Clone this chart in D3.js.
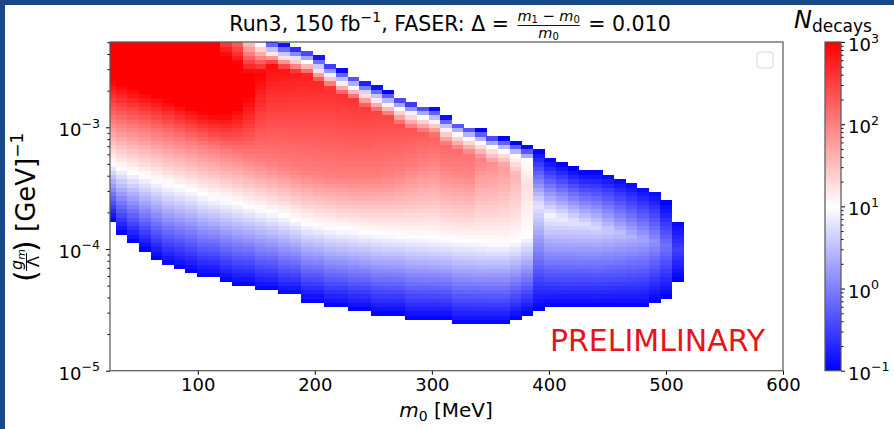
<!DOCTYPE html>
<html lang="en">
<head>
<meta charset="utf-8">
<title>FASER N_decays</title>
<script src="https://cdnjs.cloudflare.com/ajax/libs/d3/7.8.5/d3.min.js"></script>
<style>
	body { margin: 0; background: #fff; }
	svg text { font-family: "DejaVu Sans", sans-serif; fill: #000; white-space: pre; }
</style>
</head>
<body>
<svg id="chart" width="894" height="429"></svg>
<script>
// m0 column centres [MeV]
const massCenters = [25.0, 34.9, 44.8, 54.7, 64.6, 74.5, 84.4, 94.3, 104.2, 114.1,
	124.0, 133.9, 143.8, 153.7, 163.6, 173.5, 183.4, 193.3, 203.2, 213.1,
	223.0, 232.9, 242.8, 252.7, 262.6, 272.4, 282.3, 292.2, 302.1, 312.0,
	321.9, 331.8, 341.7, 351.6, 361.5, 371.4, 381.3, 391.2, 401.1, 411.0,
	420.9, 430.8, 440.7, 450.6, 460.5, 470.4, 480.3, 490.2, 500.1, 510.0];

// log10(g/Lambda) read per column, lower side: N = 0.1 (edge), N = 10 (white), N = 100
const lowerEdge = [-3.762, -3.871, -3.940, -4.008, -4.076, -4.131, -4.159, -4.187, -4.228, -4.228,
	-4.269, -4.296, -4.296, -4.337, -4.337, -4.378, -4.378, -4.433, -4.433, -4.474,
	-4.474, -4.501, -4.501, -4.537, -4.537, -4.537, -4.575, -4.575, -4.575, -4.575,
	-4.616, -4.616, -4.616, -4.616, -4.616, -4.575, -4.537, -4.501, -4.474, -4.474,
	-4.474, -4.474, -4.474, -4.474, -4.474, -4.474, -4.474, -4.433, -4.397, -4.255];
const lowerWhite = [-3.293, -3.334, -3.367, -3.400, -3.432, -3.465, -3.490, -3.515, -3.548, -3.573,
	-3.597, -3.622, -3.647, -3.671, -3.696, -3.721, -3.753, -3.786, -3.802, -3.819,
	-3.835, -3.843, -3.860, -3.868, -3.876, -3.884, -3.892, -3.901, -3.909, -3.918,
	-3.926, -3.934, -3.942, -3.951, -3.951, -3.934, -3.892, null, null, null,
	null, null, null, null, null, null, null, null, null, null];
const lowerHundred = [-2.956, -2.981, -3.006, -3.030, -3.055, -3.080, -3.104, -3.129, -3.154, -3.178,
	-3.203, -3.228, -3.252, -3.277, -3.302, -3.326, -3.351, -3.367, -3.384, -3.400,
	-3.408, -3.417, -3.417, -3.408, -3.392, -3.367, -3.334, -3.293, -3.269, -3.334,
	-3.351, -3.367, null, null, null, null, null, null, null, null,
	null, null, null, null, null, null, null, null, null, null];

// coupling of the column maximum and log10(N) there
const peakCoupling = [-2.200, -2.242, -2.283, -2.324, -2.365, -2.406, -2.447, -2.488, -2.529, -2.570,
	-2.611, -2.611, -2.595, -2.546, -2.488, -2.521, -2.546, -2.570, -2.628, -2.677,
	-2.735, -2.776, -2.833, -2.874, -2.915, -2.981, -3.022, -3.047, -3.071, -3.145,
	-3.186, -3.219, -3.252, -3.293, -3.318, -3.392, -3.474, -3.638, -3.721, -3.745,
	-3.770, -3.795, -3.819, -3.844, -3.869, -3.893, -3.918, -3.942, -3.975, -4.008];
const peakLogN = [4.2, 4.2, 4.2, 4.2, 4.2, 4.2, 4.2, 4.2, 4.2, 4.1,
	3.9, 3.6, 3.3, 3.0, 2.9, 2.85, 2.8, 2.75, 2.7, 2.65,
	2.62, 2.6, 2.55, 2.5, 2.45, 2.4, 2.35, 2.3, 2.25, 2.2,
	2.15, 2.1, 2.0, 1.9, 1.8, 1.6, 1.25, 0.8, 0.9, 0.85,
	0.8, 0.75, 0.7, 0.6, 0.5, 0.4, 0.3, 0.15, -0.1, -0.5];

// upper side: N = 10 (white) and N = 0.1 (edge); null = above the frame
const upperWhite = [null, null, null, null, null, null, null, null, null, null,
	-1.970, -2.028, -2.233, -2.316, -2.381, -2.414, -2.439, -2.463, -2.518, -2.573,
	-2.628, -2.669, -2.724, -2.765, -2.806, -2.847, -2.888, -2.915, -2.943, -3.011,
	-3.053, -3.088, -3.121, -3.162, -3.189, -3.225, -3.269, null, null, null,
	null, null, null, null, null, null, null, null, null, null];
const upperEdge = [null, null, null, null, null, null, null, null, null, null,
	-1.872, -1.929, -2.135, -2.217, -2.283, -2.316, -2.340, -2.365, -2.420, -2.474,
	-2.529, -2.570, -2.625, -2.666, -2.707, -2.749, -2.790, -2.817, -2.844, -2.913,
	-2.954, -2.989, -3.022, -3.063, -3.090, -3.127, -3.159, -3.187, -3.255, -3.296,
	-3.337, -3.365, -3.365, -3.384, -3.417, -3.449, -3.482, -3.515, -3.614, -3.762];

const xTicks = [100, 200, 300, 400, 500, 600];
const yTickExp = [-5, -4, -3];
const cbarTickExp = [-1, 0, 1, 2, 3];

const svg = d3.select("#chart");
const plot = { left: 110, right: 783, top: 42, bottom: 370.7 };
const cbar = { left: 825, right: 841, top: 42, bottom: 370.7 };

// slide frame
svg.append("rect").attr("x", 0).attr("y", 0).attr("width", 894).attr("height", 5).attr("fill", "#1b4789");
svg.append("rect").attr("x", 0).attr("y", 0).attr("width", 5).attr("height", 429).attr("fill", "#1b4789");

const x = d3.scaleLinear().domain([25, 600]).range([plot.left, plot.right]);
const y = d3.scaleLog().domain([1e-5, 5.02e-3]).range([plot.bottom, plot.top]);
const color = d3.scaleLinear().domain([-1, 1, 3]).range(["#0000ff", "#ffffff", "#ff0000"]).clamp(true);

svg.append("clipPath").attr("id", "clip")
	.append("rect").attr("x", plot.left).attr("y", plot.top)
	.attr("width", plot.right - plot.left).attr("height", plot.bottom - plot.top);

// heat cells
const rowStep = 0.035;
const rowStarts = d3.range(-5, -2.25, rowStep);
const half = (massCenters[1] - massCenters[0]) / 2;
const cells = [];
massCenters.forEach((m, i) => {
	const knots = [[lowerEdge[i], -1], [lowerWhite[i], 1], [lowerHundred[i], 2],
		[peakCoupling[i], peakLogN[i]], [upperWhite[i], 1], [upperEdge[i], -1]].filter(k => k[0] != null);
	const level = d3.scaleLinear().domain(knots.map(k => k[0])).range(knots.map(k => k[1])).clamp(true);
	const top = upperEdge[i] == null ? Infinity : upperEdge[i];
	rowStarts.forEach(r => {
		const c = r + rowStep / 2;
		if (c < lowerEdge[i] || c > top) return;
		cells.push({ m: m, lo: r, hi: r + rowStep, v: level(c) });
	});
});

svg.append("g").attr("clip-path", "url(#clip)").attr("shape-rendering", "crispEdges")
	.selectAll("rect").data(cells).join("rect")
	.attr("x", d => x(d.m - half))
	.attr("width", d => x(d.m + half) - x(d.m - half) + 0.3)
	.attr("y", d => y(Math.pow(10, d.hi)))
	.attr("height", d => y(Math.pow(10, d.lo)) - y(Math.pow(10, d.hi)) + 0.3)
	.attr("fill", d => color(d.v));

// empty legend box
svg.append("rect").attr("x", 757).attr("y", 52).attr("width", 16).attr("height", 16).attr("rx", 3)
	.attr("fill", "#fff").attr("stroke", "#d6d6d6").attr("stroke-width", 1);

// PRELIMLINARY stamp
svg.append("text").attr("x", 765).attr("y", 351).attr("text-anchor", "end")
	.style("font-size", "30px").style("fill", "#e8141a").text("PRELIMLINARY");

// axes
const xAxis = svg.append("g").attr("transform", `translate(0,${plot.bottom})`)
	.call(d3.axisBottom(x).tickValues(xTicks).tickSize(4).tickPadding(4).tickFormat(d3.format("d")));
xAxis.select(".domain").remove();
xAxis.selectAll("text").style("font-size", "18px").attr("fill", "#000");

const minor = [];
[-5, -4, -3].forEach(e => d3.range(2, 10).forEach(k => { if (k * Math.pow(10, e) <= 5.02e-3) minor.push(k * Math.pow(10, e)); }));
const yMinor = svg.append("g").attr("transform", `translate(${plot.left},0)`)
	.call(d3.axisLeft(y).tickValues(minor).tickSize(2.5).tickFormat(""));
yMinor.select(".domain").remove();
const yAxis = svg.append("g").attr("transform", `translate(${plot.left},0)`)
	.call(d3.axisLeft(y).tickValues(yTickExp.map(e => Math.pow(10, e))).tickSize(4).tickFormat(""));
yAxis.select(".domain").remove();

function powLabel(g, e, xPos, yPos, anchor) {
	const t = g.append("text").attr("x", xPos).attr("y", yPos).attr("text-anchor", anchor).style("font-size", "18px");
	t.append("tspan").text("10");
	t.append("tspan").attr("dy", -8.5).style("font-size", "12.6px").text(e < 0 ? "\u2212" + (-e) : String(e));
	return t;
}
yTickExp.forEach(e => powLabel(svg, e, 100, y(Math.pow(10, e)) + 9, "end"));

svg.append("rect").attr("x", plot.left).attr("y", plot.top)
	.attr("width", plot.right - plot.left).attr("height", plot.bottom - plot.top)
	.attr("fill", "none").attr("stroke", "#555").attr("stroke-width", 1.2);

// x label
const xl = svg.append("text").attr("x", 446).attr("y", 417).attr("text-anchor", "middle").style("font-size", "20px");
xl.append("tspan").style("font-style", "italic").text("m");
xl.append("tspan").attr("dy", 4).style("font-size", "14px").text("0");
xl.append("tspan").attr("dy", -4).text(" [MeV]");

// y label, rotated
const yl = svg.append("g").attr("transform", "translate(35,208) rotate(-90)");
yl.append("text").attr("x", -74).attr("y", 1).style("font-size", "30px").text("(");
yl.append("text").attr("x", -62).attr("y", -13).style("font-size", "16px")
	.call(t => { t.append("tspan").style("font-style", "italic").text("g"); t.append("tspan").attr("dy", 3).style("font-size", "11px").style("font-style", "italic").text("m"); });
yl.append("line").attr("x1", -63).attr("x2", -45).attr("y1", -8.5).attr("y2", -8.5).attr("stroke", "#000").attr("stroke-width", 1);
yl.append("text").attr("x", -59).attr("y", 4).style("font-size", "16px").text("\u039b");
yl.append("text").attr("x", -44).attr("y", 1).style("font-size", "30px").text(")");
const ylt = yl.append("text").attr("x", -24).attr("y", 0).style("font-size", "26px");
ylt.append("tspan").text("[GeV]");
ylt.append("tspan").attr("dy", -12).style("font-size", "17px").text("\u22121");

// title
const title = svg.append("g");
const t1 = title.append("text").attr("x", 0).attr("y", 31).style("font-size", "20.5px");
t1.append("tspan").text("Run3, 150 fb");
t1.append("tspan").attr("dy", -9).style("font-size", "14px").text("\u22121");
t1.append("tspan").attr("dy", 9).text(", FASER: \u0394 = ");
let tx = t1.node().getComputedTextLength() + 2;
const num = title.append("text").attr("x", tx).attr("y", 21).style("font-size", "14.5px");
num.append("tspan").style("font-style", "italic").text("m");
num.append("tspan").attr("dy", 2).style("font-size", "10px").text("1");
num.append("tspan").attr("dy", -2).text(" \u2212 ");
num.append("tspan").style("font-style", "italic").text("m");
num.append("tspan").attr("dy", 2).style("font-size", "10px").text("0");
const numW = num.node().getComputedTextLength();
title.append("line").attr("x1", tx).attr("x2", tx + numW).attr("y1", 25.5).attr("y2", 25.5)
	.attr("stroke", "#000").attr("stroke-width", 0.9);
const den = title.append("text").attr("x", tx + numW / 2).attr("y", 38).attr("text-anchor", "middle").style("font-size", "14.5px");
den.append("tspan").style("font-style", "italic").text("m");
den.append("tspan").attr("dy", 2).style("font-size", "10px").text("0");
tx += numW + 2;
title.append("text").attr("x", tx).attr("y", 31).style("font-size", "20.5px").text(" = 0.010");
const tb = title.node().getBBox();
title.attr("transform", `translate(${450 - tb.width / 2 - tb.x},0)`);

// colour bar
const grad = svg.append("defs").append("linearGradient").attr("id", "bwr")
	.attr("x1", 0).attr("y1", 1).attr("x2", 0).attr("y2", 0);
grad.append("stop").attr("offset", 0).attr("stop-color", "#0000ff");
grad.append("stop").attr("offset", 0.5).attr("stop-color", "#ffffff");
grad.append("stop").attr("offset", 1).attr("stop-color", "#ff0000");
svg.append("rect").attr("x", cbar.left).attr("y", cbar.top)
	.attr("width", cbar.right - cbar.left).attr("height", cbar.bottom - cbar.top)
	.attr("fill", "url(#bwr)");
const cy = d3.scaleLog().domain([0.1, 1000]).range([cbar.bottom, cbar.top]);
const cMinor = [];
[-1, 0, 1, 2].forEach(e => d3.range(2, 10).forEach(k => cMinor.push(k * Math.pow(10, e))));
const cbm = svg.append("g").attr("transform", `translate(${cbar.right},0)`)
	.call(d3.axisRight(cy).tickValues(cMinor).tickSize(2.5).tickFormat(""));
cbm.select(".domain").remove();
const cbM = svg.append("g").attr("transform", `translate(${cbar.right},0)`)
	.call(d3.axisRight(cy).tickValues(cbarTickExp.map(e => Math.pow(10, e))).tickSize(4).tickFormat(""));
cbM.select(".domain").remove();
cbarTickExp.forEach(e => powLabel(svg, e, 848, cy(Math.pow(10, e)) + 9, "start"));
svg.append("rect").attr("x", cbar.left).attr("y", cbar.top)
	.attr("width", cbar.right - cbar.left).attr("height", cbar.bottom - cbar.top)
	.attr("fill", "none").attr("stroke", "#555").attr("stroke-width", 1.2);

const cl = svg.append("text").attr("x", 833).attr("y", 28).attr("text-anchor", "middle").style("font-size", "24px");
cl.append("tspan").style("font-style", "italic").text("N");
cl.append("tspan").attr("dy", 4).style("font-size", "17px").text("decays");
</script>
</body>
</html>
